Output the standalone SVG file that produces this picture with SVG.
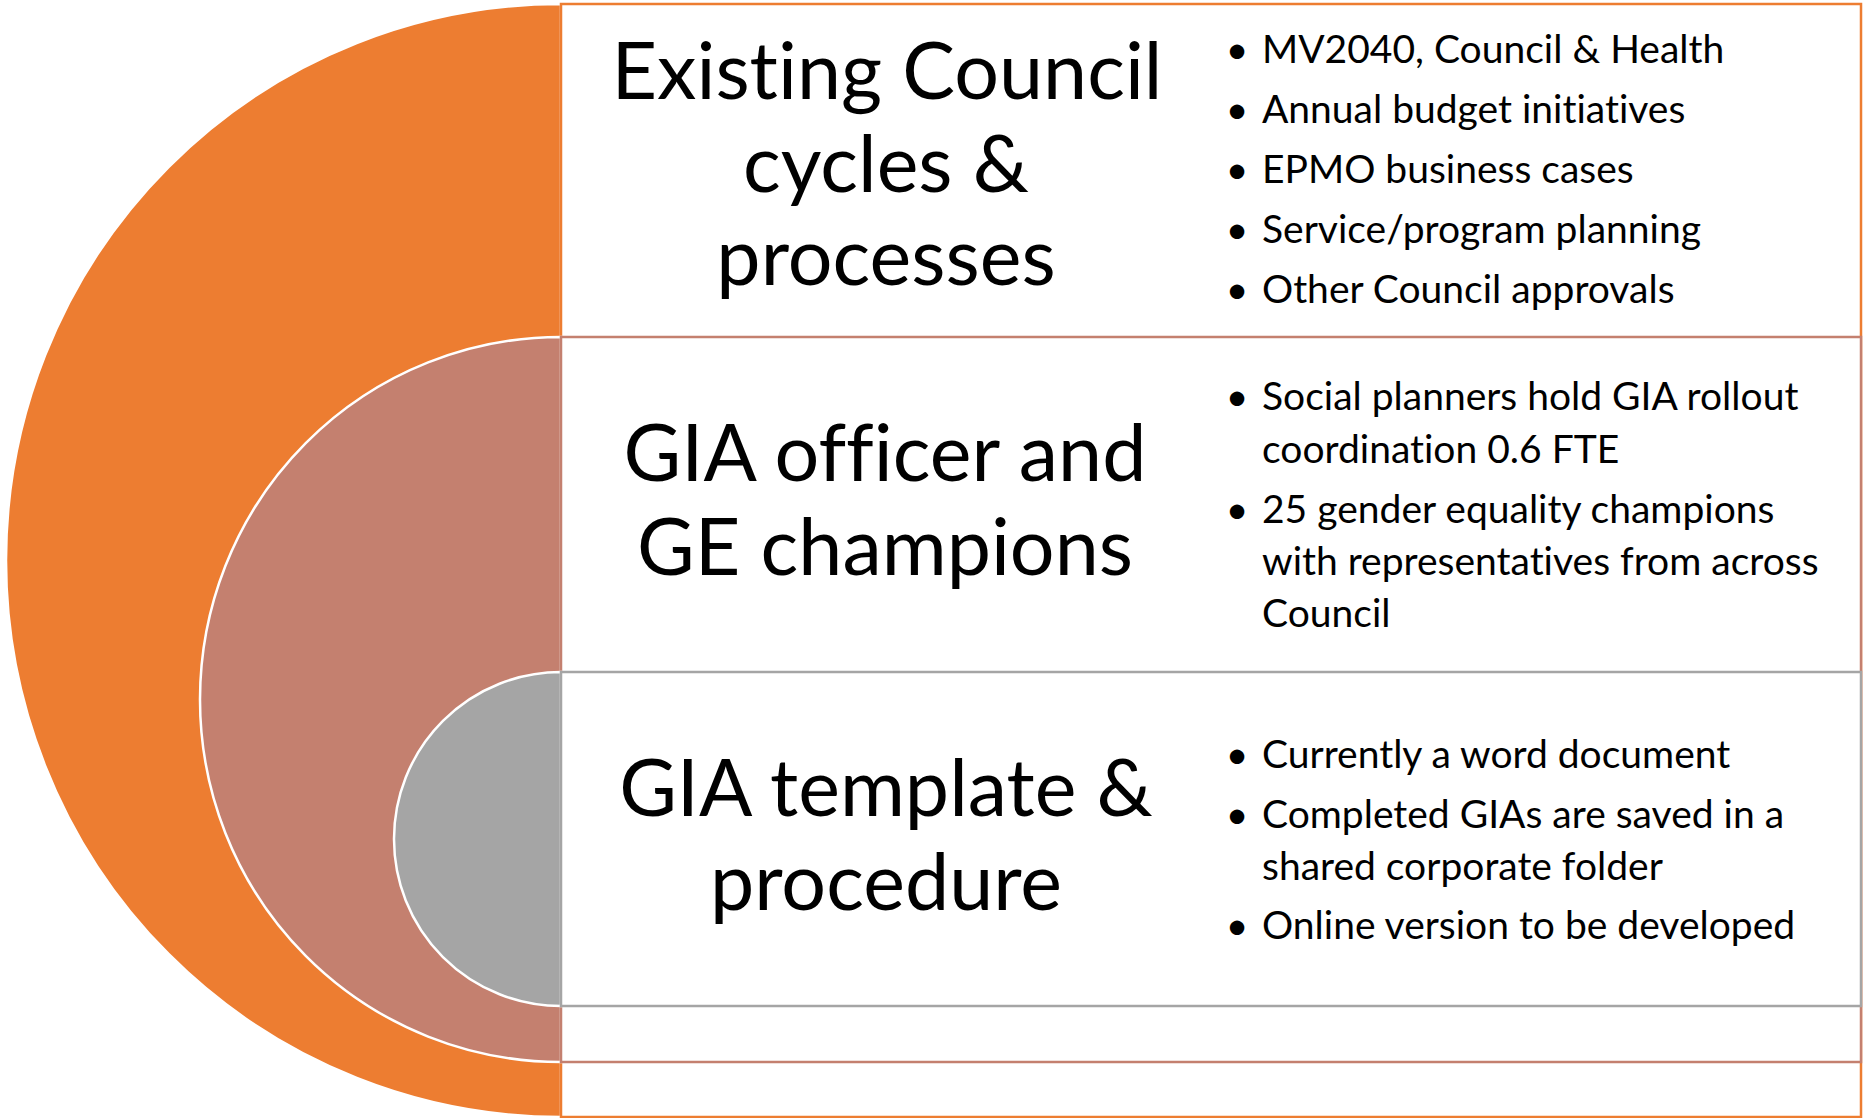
<svg xmlns="http://www.w3.org/2000/svg" width="1863" height="1118" viewBox="0 0 1863 1118">
<style>
text{font-variant-ligatures:none}
.title{font-family:Lato,"Liberation Sans",sans-serif;font-size:79px;fill:#000;text-anchor:middle}
.item{font-family:Lato,"Liberation Sans",sans-serif;font-size:39px;fill:#000}
.bul{font-family:Lato,"Liberation Sans",sans-serif;font-size:39px;fill:#000;text-anchor:middle}
.ring{stroke:#FFFFFF;stroke-width:2.5}
.box{fill:#FFFFFF;stroke-width:2.5}
</style>
<rect width="1863" height="1118" fill="#FFFFFF"/>
<g id="level1">
<path class="ring" d="M561,4 A555,556.5 0 0 0 561,1117 Z" fill="#ED7D31"/>
<rect class="box" x="561" y="4" width="1300" height="1113" stroke="#ED7D31"/>
</g>
<g id="level2">
<path class="ring" d="M561,337 A361,362.5 0 0 0 561,1062 Z" fill="#C4806F"/>
<rect class="box" x="561" y="337" width="1300" height="725" stroke="#C4806F"/>
</g>
<g id="level3">
<path class="ring" d="M561,672 A167,167 0 0 0 561,1006 Z" fill="#A5A5A5"/>
<rect class="box" x="561" y="672" width="1300" height="334" stroke="#A5A5A5"/>
</g>
<g id="connectors"></g>
<g id="text1">
<text class="title" x="887" y="99">Existing Council</text>
<text class="title" x="886" y="192">cycles &amp;</text>
<text class="title" x="886" y="285">processes</text>
<text class="bul" x="1237" y="63">•</text><text class="item" x="1262" y="63">MV2040, Council &amp; Health</text>
<text class="bul" x="1237" y="123">•</text><text class="item" x="1262" y="123">Annual budget initiatives</text>
<text class="bul" x="1237" y="183">•</text><text class="item" x="1262" y="183">EPMO business cases</text>
<text class="bul" x="1237" y="243">•</text><text class="item" x="1262" y="243">Service/program planning</text>
<text class="bul" x="1237" y="303">•</text><text class="item" x="1262" y="303">Other Council approvals</text>
</g>
<g id="text2">
<text class="title" x="885" y="481">GIA officer and</text>
<text class="title" x="885" y="575">GE champions</text>
<text class="bul" x="1237" y="410">•</text><text class="item" x="1262" y="410">Social planners hold GIA rollout</text>
<text class="item" x="1262" y="463">coordination 0.6 FTE</text>
<text class="bul" x="1237" y="523">•</text><text class="item" x="1262" y="523">25 gender equality champions</text>
<text class="item" x="1262" y="575">with representatives from across</text>
<text class="item" x="1262" y="627">Council</text>
</g>
<g id="text3">
<text class="title" x="886" y="816">GIA template &amp;</text>
<text class="title" x="886" y="910">procedure</text>
<text class="bul" x="1237" y="768">•</text><text class="item" x="1262" y="768">Currently a word document</text>
<text class="bul" x="1237" y="828">•</text><text class="item" x="1262" y="828">Completed GIAs are saved in a</text>
<text class="item" x="1262" y="880">shared corporate folder</text>
<text class="bul" x="1237" y="939">•</text><text class="item" x="1262" y="939">Online version to be developed</text>
</g>
</svg>
